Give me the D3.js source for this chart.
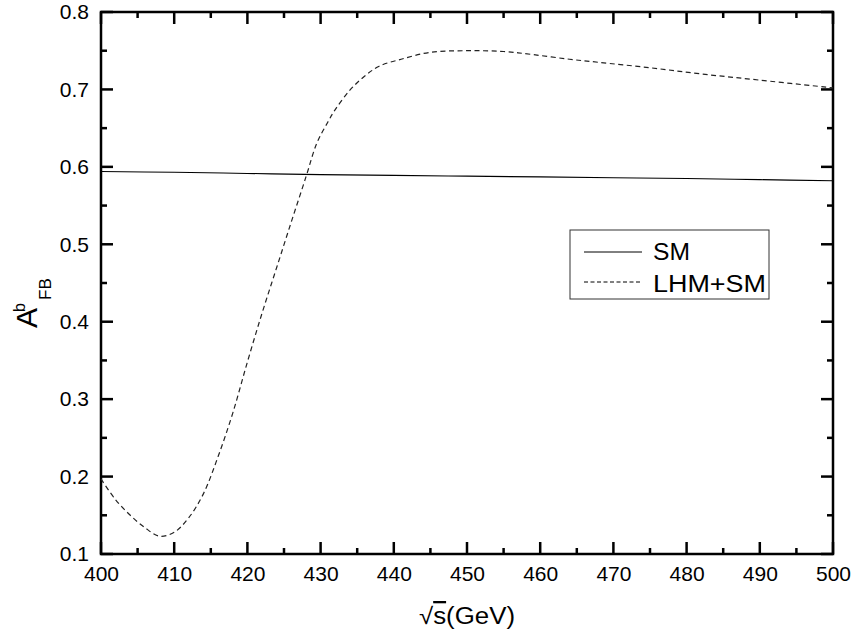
<!DOCTYPE html>
<html>
<head>
<meta charset="utf-8">
<script src="https://cdn.jsdelivr.net/npm/d3@7"></script>
<style>
  html, body { margin: 0; padding: 0; background: #fff; }
  svg { display: block; font-family: Arial, "Liberation Sans", sans-serif; }
</style>
</head>
<body>
<svg id="chart" width="856" height="641"></svg>
<script>
// ---- data ----
const smX = [400, 410, 420, 430, 440, 450, 460, 470, 480, 490, 500];
const smY = [0.594, 0.593, 0.5915, 0.590, 0.589, 0.588, 0.587, 0.586, 0.585, 0.5835, 0.582];

const lhmX = [400, 402, 404, 406, 408, 410, 412, 414, 416, 418, 420, 422, 424, 426, 428, 429.5, 431, 432, 434, 436, 438, 441, 445, 450, 455, 459, 464, 468, 475, 482, 490, 500];
const lhmY = [0.197, 0.170, 0.150, 0.134, 0.123, 0.128, 0.147, 0.178, 0.226, 0.282, 0.348, 0.411, 0.470, 0.529, 0.587, 0.631, 0.658, 0.674, 0.699, 0.717, 0.730, 0.739, 0.748, 0.750, 0.749, 0.745, 0.739, 0.735, 0.728, 0.720, 0.712, 0.702];

const xMajor = [400, 410, 420, 430, 440, 450, 460, 470, 480, 490, 500];
const xMinor = [405, 415, 425, 435, 445, 455, 465, 475, 485, 495];
const yMajor = [0.1, 0.2, 0.3, 0.4, 0.5, 0.6, 0.7, 0.8];
const yMinor = [0.15, 0.25, 0.35, 0.45, 0.55, 0.65, 0.75];

const seriesNames = ["SM", "LHM+SM"];

// ---- layout ----
const L = 101, R = 833, T = 12, B = 554;
const svg = d3.select("#chart");
const x = d3.scaleLinear().domain([400, 500]).range([L, R]);
const y = d3.scaleLinear().domain([0.1, 0.8]).range([B, T]);

// tick marks (inward on all four sides)
const tg = svg.append("g").attr("stroke", "#000").attr("stroke-width", 2.5);
[[xMajor, 12], [xMinor, 6]].forEach(([vals, len]) => {
  vals.forEach(v => {
    tg.append("line").attr("x1", x(v)).attr("x2", x(v)).attr("y1", B).attr("y2", B - len);
    tg.append("line").attr("x1", x(v)).attr("x2", x(v)).attr("y1", T).attr("y2", T + len);
  });
});
[[yMajor, 12], [yMinor, 6]].forEach(([vals, len]) => {
  vals.forEach(v => {
    tg.append("line").attr("y1", y(v)).attr("y2", y(v)).attr("x1", L).attr("x2", L + len);
    tg.append("line").attr("y1", y(v)).attr("y2", y(v)).attr("x1", R).attr("x2", R - len);
  });
});

// tick labels through d3 axes
function styleAxis(g) {
  g.select(".domain").remove();
  g.selectAll(".tick line").remove();
  g.selectAll(".tick text").attr("font-size", 21).attr("fill", "#000")
    .attr("font-family", "Arial, 'Liberation Sans', sans-serif");
}
svg.append("g").attr("transform", `translate(0,${B})`)
  .call(d3.axisBottom(x).tickValues(xMajor).tickSize(0).tickPadding(12).tickFormat(d3.format("d")))
  .call(styleAxis);
svg.append("g").attr("transform", `translate(${L},0)`)
  .call(d3.axisLeft(y).tickValues(yMajor).tickSize(0).tickPadding(12).tickFormat(d3.format(".1f")))
  .call(styleAxis);

// frame
svg.append("rect").attr("x", L).attr("y", T).attr("width", R - L).attr("height", B - T)
  .attr("fill", "none").attr("stroke", "#000").attr("stroke-width", 2.5);

// lines
const line = d3.line().x(d => x(d[0])).y(d => y(d[1])).curve(d3.curveCatmullRom.alpha(0.5));
const smData = smX.map((v, i) => [v, smY[i]]);
const lhmData = lhmX.map((v, i) => [v, lhmY[i]]);

svg.append("path").datum(smData).attr("d", line)
  .attr("fill", "none").attr("stroke", "#000").attr("stroke-width", 1.1);
svg.append("path").datum(lhmData).attr("d", line)
  .attr("fill", "none").attr("stroke", "#222").attr("stroke-width", 1.2)
  .attr("stroke-dasharray", "5,3.5");

// legend
const lg = svg.append("g");
lg.append("rect").attr("x", 570).attr("y", 230).attr("width", 199).attr("height", 69)
  .attr("fill", "#fff").attr("stroke", "#333").attr("stroke-width", 1);
const legendRows = [
  { name: seriesNames[0], dash: null, ly: 252, ty: 260, tl: 37 },
  { name: seriesNames[1], dash: "4,2.5", ly: 282, ty: 292, tl: 113 }
];
legendRows.forEach(r => {
  lg.append("line").attr("x1", 584).attr("x2", 642).attr("y1", r.ly).attr("y2", r.ly)
    .attr("stroke", "#000").attr("stroke-width", 1)
    .attr("stroke-dasharray", r.dash);
  lg.append("text").attr("x", 653).attr("y", r.ty).attr("font-size", 23)
    .attr("textLength", r.tl).attr("lengthAdjust", "spacingAndGlyphs")
    .attr("fill", "#000").text(r.name);
});

// x axis title
const xt = svg.append("text").attr("x", 467).attr("y", 624).attr("text-anchor", "middle")
  .attr("font-size", 23).attr("fill", "#000")
  .attr("textLength", 96).attr("lengthAdjust", "spacingAndGlyphs");
xt.append("tspan").text("√");
xt.append("tspan").attr("text-decoration", "overline").text("s");
xt.append("tspan").text("(GeV)");

// y axis title: A^b_FB rotated
svg.append("text").attr("transform", "translate(37,328) rotate(-90)")
  .attr("font-size", 30).attr("fill", "#000").text("A");
svg.append("text").attr("transform", "translate(25,312) rotate(-90)")
  .attr("font-size", 16).attr("fill", "#000").text("b");
svg.append("text").attr("transform", "translate(51,300) rotate(-90)")
  .attr("font-size", 17).attr("fill", "#000").text("FB");
</script>
</body>
</html>
